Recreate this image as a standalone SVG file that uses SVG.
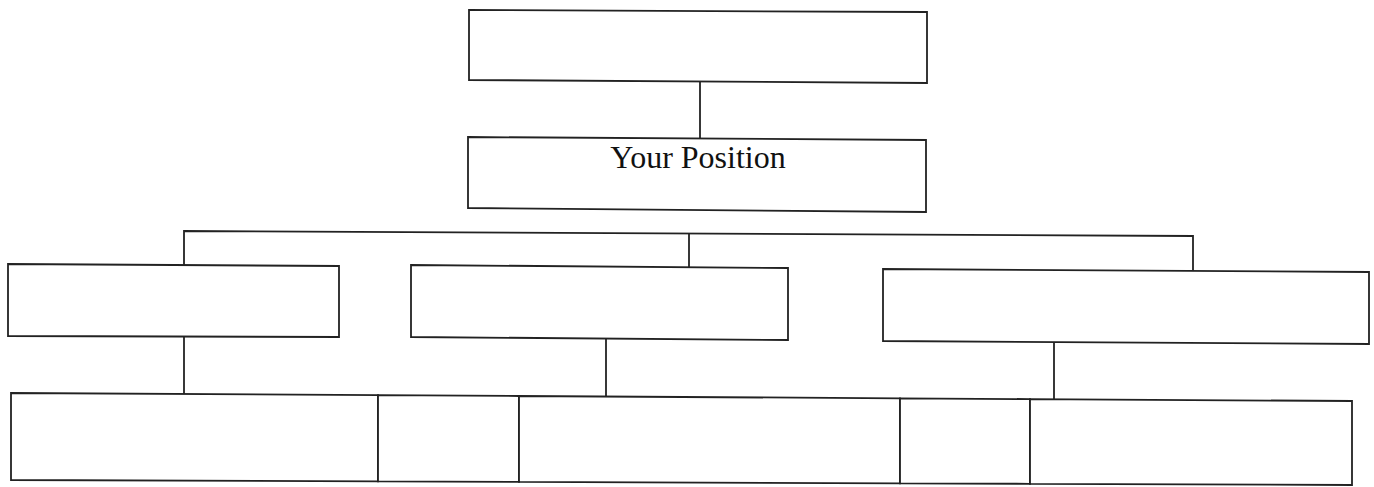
<svg xmlns="http://www.w3.org/2000/svg" width="1374" height="487" viewBox="0 0 1374 487">
<style>
.box{fill:#ffffff;stroke:#222;stroke-width:1.8;stroke-linejoin:miter}
.conn{fill:none;stroke:#222;stroke-width:1.8}
.lbl{font-family:"Liberation Serif","Times New Roman",serif;font-size:32px;fill:#111;text-anchor:middle}
</style>
<rect width="1374" height="487" fill="#ffffff"/>
<g id="connectors">
<line class="conn" x1="700" y1="76" x2="700" y2="138"/>
<polyline class="conn" points="184,265 184,231 1193,236 1193,271"/>
<line class="conn" x1="689" y1="233" x2="689" y2="267"/>
<line class="conn" x1="184" y1="337" x2="184" y2="394"/>
<line class="conn" x1="606" y1="339" x2="606" y2="396"/>
<line class="conn" x1="1054" y1="343" x2="1054" y2="399"/>
</g>
<g id="top"><polygon class="box" points="469,10 927,12 927,83 469,80"/></g>
<g id="your-position">
<polygon class="box" points="468,137 926,140 926,212 468,208"/>
<text class="lbl" x="698" y="168">Your Position</text>
</g>
<g id="mid-left"><polygon class="box" points="8,264 339,266 339,337 8,336"/></g>
<g id="mid-center"><polygon class="box" points="411,265 788,268 788,340 411,337"/></g>
<g id="mid-right"><polygon class="box" points="883,269 1369,272 1369,344 883,341"/></g>
<g id="bottom-1"><polygon class="box" points="11,393 378,395.2 378,481.4 11,480"/></g>
<g id="bottom-2"><polygon class="box" points="378,395.2 519,396 519,481.9 378,481.4"/></g>
<g id="bottom-3"><polygon class="box" points="519,396 900,398.3 900,483.3 519,481.9"/></g>
<g id="bottom-4"><polygon class="box" points="900,398.3 1030,399.1 1030,483.8 900,483.3"/></g>
<g id="bottom-5"><polygon class="box" points="1030,399.1 1352,401 1352,485 1030,483.8"/></g>
</svg>
